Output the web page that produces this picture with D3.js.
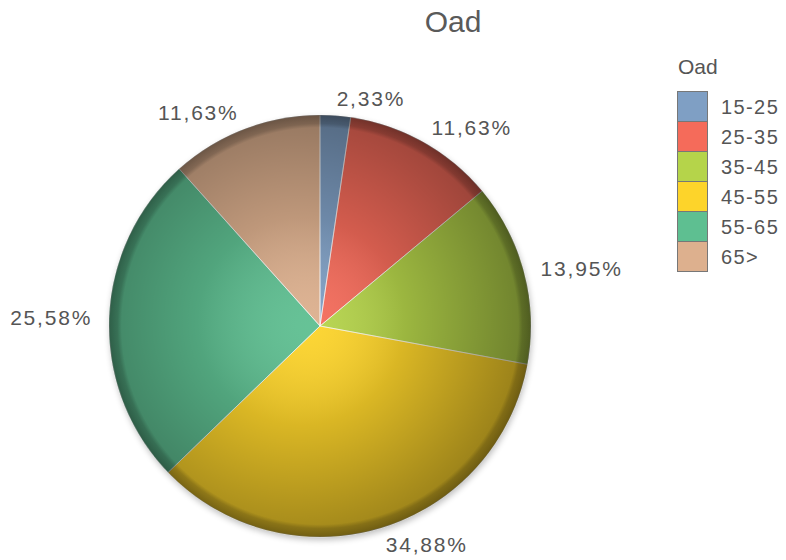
<!DOCTYPE html>
<html>
<head>
<meta charset="utf-8">
<script src="https://cdn.jsdelivr.net/npm/d3@7"></script>
<style>
  body { margin: 0; background: #fff; }
  svg text { font-family: "Liberation Sans", Arial, sans-serif; fill: #555; }
</style>
</head>
<body>
<div id="chart"></div>
<script>
// data (counts, shown as percentages)
const categories = ["15-25", "25-35", "35-45", "45-55", "55-65", "65>"];
const counts = [1, 5, 6, 15, 11, 5];
const colors = ["#7f9fc4", "#f56b5a", "#b5d44a", "#fdd42a", "#5ebf91", "#ddb08e"];
const chartTitle = "Oad";

const width = 786, height = 560;
const cx = 320, cy = 326, radius = 211;

const svg = d3.select("#chart").append("svg")
  .attr("width", width)
  .attr("height", height);

const defs = svg.append("defs");

// shading: light towards the centre, dark towards the rim
const shade = defs.append("radialGradient")
  .attr("id", "shade")
  .attr("gradientUnits", "userSpaceOnUse")
  .attr("cx", cx - 30).attr("cy", cy - 10).attr("r", radius + 20)
  .attr("fx", cx - 10).attr("fy", cy);
shade.append("stop").attr("offset", "0%").attr("stop-color", "#fff").attr("stop-opacity", 0.05);
shade.append("stop").attr("offset", "45%").attr("stop-color", "#000").attr("stop-opacity", 0.14);
shade.append("stop").attr("offset", "100%").attr("stop-color", "#000").attr("stop-opacity", 0.38);

const rim = defs.append("radialGradient")
  .attr("id", "rim")
  .attr("gradientUnits", "userSpaceOnUse")
  .attr("cx", cx).attr("cy", cy).attr("r", radius);
rim.append("stop").attr("offset", "0%").attr("stop-color", "#000").attr("stop-opacity", 0);
rim.append("stop").attr("offset", "94%").attr("stop-color", "#000").attr("stop-opacity", 0);
rim.append("stop").attr("offset", "96%").attr("stop-color", "#000").attr("stop-opacity", 0.18);
rim.append("stop").attr("offset", "100%").attr("stop-color", "#000").attr("stop-opacity", 0.3);

const shadow = defs.append("filter").attr("id", "shadow")
  .attr("x", "-10%").attr("y", "-10%").attr("width", "120%").attr("height", "120%");
shadow.append("feGaussianBlur").attr("stdDeviation", 3);

const total = d3.sum(counts);
const fmt = v => (v / total * 100).toFixed(2).replace(".", ",") + "%";

const pie = d3.pie().sort(null).value(d => d);
const arcs = pie(counts);
const arc = d3.arc().innerRadius(0).outerRadius(radius);

// title
svg.append("text")
  .attr("x", 453).attr("y", 32)
  .attr("text-anchor", "middle")
  .style("font-size", "30px")
  .style("fill", "#5a5a5a")
  .text(chartTitle);

const g = svg.append("g").attr("transform", `translate(${cx},${cy})`);

// soft shadow under the pie
g.append("circle")
  .attr("cx", 1).attr("cy", 3).attr("r", radius)
  .attr("fill", "#000").attr("opacity", 0.25)
  .attr("filter", "url(#shadow)");

g.selectAll("path.slice")
  .data(arcs)
  .join("path")
  .attr("class", "slice")
  .attr("d", arc)
  .attr("fill", (d, i) => colors[i]);

const overlay = svg.append("g");
overlay.append("circle")
  .attr("cx", cx).attr("cy", cy).attr("r", radius)
  .attr("fill", "url(#shade)");
overlay.append("circle")
  .attr("cx", cx).attr("cy", cy).attr("r", radius)
  .attr("fill", "url(#rim)");

// light separators between slices
g.selectAll("path.sep")
  .data(arcs)
  .join("path")
  .attr("class", "sep")
  .attr("d", arc)
  .attr("fill", "none")
  .attr("stroke", "#fff")
  .attr("stroke-opacity", 0.55)
  .attr("stroke-width", 1);

// percentage labels
const labelR = 228;
g.selectAll("text.lbl")
  .data(arcs)
  .join("text")
  .attr("class", "lbl")
  .attr("x", d => Math.sin((d.startAngle + d.endAngle) / 2) * labelR)
  .attr("y", d => -Math.cos((d.startAngle + d.endAngle) / 2) * labelR)
  .attr("dy", "0.35em")
  .attr("text-anchor", d => Math.sin((d.startAngle + d.endAngle) / 2) >= 0 ? "start" : "end")
  .style("font-size", "21px")
  .style("letter-spacing", "1.8px")
  .text(d => fmt(d.data));

// legend
const legend = svg.append("g").attr("transform", "translate(677,0)");
legend.append("text")
  .attr("x", 1).attr("y", 74)
  .style("font-size", "21px")
  .text(chartTitle);

const sw = 30;
const rows = legend.selectAll("g.row")
  .data(categories)
  .join("g")
  .attr("class", "row")
  .attr("transform", (d, i) => `translate(0,${91 + i * sw})`);
rows.append("rect")
  .attr("x", 0.5).attr("y", 0.5)
  .attr("width", sw).attr("height", sw)
  .attr("fill", (d, i) => colors[i])
  .attr("stroke", "#777").attr("stroke-width", 1);
rows.append("text")
  .attr("x", 44).attr("y", sw / 2 + 1)
  .attr("dy", "0.35em")
  .style("font-size", "20px")
  .style("letter-spacing", "1.4px")
  .text(d => d);
</script>
</body>
</html>
